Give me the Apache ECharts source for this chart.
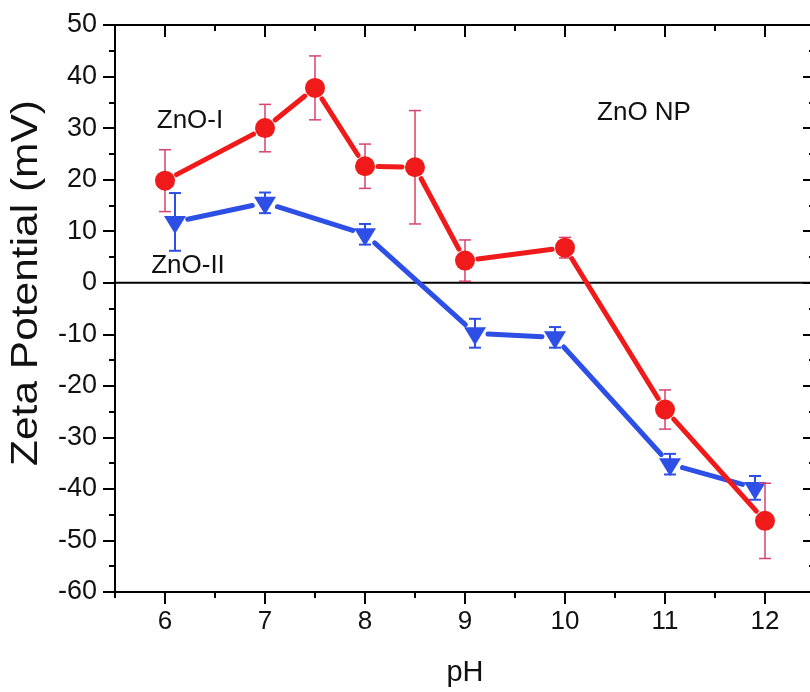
<!DOCTYPE html>
<html>
<head>
<meta charset="utf-8">
<script src="https://cdn.jsdelivr.net/npm/echarts@6/dist/echarts.min.js"></script>
<style>
html,body{margin:0;padding:0;background:#fff;}
#chart{width:810px;height:692px;}
</style>
</head>
<body>
<div id="chart"></div>
<script>
// ---- data ----
const xMajorTicks = [6, 7, 8, 9, 10, 11, 12];
const xMinorTicks = [5.5, 6.5, 7.5, 8.5, 9.5, 10.5, 11.5, 12.5];
const xMin = 5.5, xMax = 12.5, yMin = -60, yMax = 50;

const redPH   = [6, 7, 7.5, 8, 8.5, 9, 10, 11, 12];
const redZeta = [19.8, 30.0, 37.8, 22.6, 22.4, 4.3, 6.8, -24.6, -46.2];
const redErr  = [6.0, 4.6, 6.2, 4.3, 11.0, 4.0, 2.0, 3.8, 7.3];

const bluePH   = [6.1, 7, 8, 9.1, 9.9, 11.05, 11.9];
const blueZeta = [11.8, 15.5, 9.4, -9.8, -10.6, -35.2, -39.8];
const blueErr  = [5.6, 2.0, 2.0, 2.8, 2.0, 2.0, 2.3];

const FONT = "'Liberation Sans', Arial, Helvetica, sans-serif";
const RED = '#f01a1a';
const BLUE = '#2d4fe6';
const RED_ERR = '#d8426e';

function segments(xs, ys) {
  const out = [];
  for (let i = 0; i < xs.length - 1; i++) out.push([xs[i], ys[i], xs[i + 1], ys[i + 1]]);
  return out;
}
function errRows(xs, ys, es) {
  return xs.map((x, i) => [x, ys[i] - es[i], ys[i] + es[i]]);
}
function pts(xs, ys) { return xs.map((x, i) => [x, ys[i]]); }

function segRender(gapA, color) {
  return function (params, api) {
    const a = api.coord([api.value(0), api.value(1)]);
    const b = api.coord([api.value(2), api.value(3)]);
    const dx = b[0] - a[0], dy = b[1] - a[1];
    const len = Math.sqrt(dx * dx + dy * dy);
    if (len <= 2 * gapA) return null;
    const ux = dx / len, uy = dy / len;
    return {
      type: 'line',
      shape: { x1: a[0] + ux * gapA, y1: a[1] + uy * gapA, x2: b[0] - ux * gapA, y2: b[1] - uy * gapA },
      style: { stroke: color, lineWidth: 5, lineCap: 'round' }
    };
  };
}
function errRender(color, width, cap) {
  return function (params, api) {
    const lo = api.coord([api.value(0), api.value(1)]);
    const hi = api.coord([api.value(0), api.value(2)]);
    const st = { stroke: color, lineWidth: width };
    return {
      type: 'group',
      children: [
        { type: 'line', shape: { x1: lo[0], y1: lo[1], x2: hi[0], y2: hi[1] }, style: st },
        { type: 'line', shape: { x1: lo[0] - cap, y1: lo[1], x2: lo[0] + cap, y2: lo[1] }, style: st },
        { type: 'line', shape: { x1: hi[0] - cap, y1: hi[1], x2: hi[0] + cap, y2: hi[1] }, style: st }
      ]
    };
  };
}

const axisLineStyle = { show: true, onZero: false, lineStyle: { color: '#000', width: 2 } };

function xAx(pos, ticks, len, inside, labels) {
  return {
    type: 'value', position: pos, min: xMin, max: xMax, offset: 0,
    axisLine: axisLineStyle,
    axisTick: { show: true, customValues: ticks, length: len, inside: inside, lineStyle: { color: '#000', width: 2 } },
    axisLabel: labels ? { show: true, customValues: xMajorTicks, margin: 17, fontSize: 26, color: '#111', fontFamily: FONT } : { show: false },
    splitLine: { show: false }
  };
}
function yAx(pos, inside, labels) {
  return {
    type: 'value', position: pos, min: yMin, max: yMax, interval: 10, offset: 0,
    axisLine: axisLineStyle,
    axisTick: { show: true, length: 12, inside: inside, lineStyle: { color: '#000', width: 2 } },
    minorTick: { show: true, splitNumber: 2, length: 6, lineStyle: { color: '#000', width: 2 } },
    axisLabel: labels ? { show: true, margin: 18, fontSize: 27, color: '#111', fontFamily: FONT } : { show: false },
    splitLine: { show: false },
    minorSplitLine: { show: false }
  };
}

const xAxes = [
  Object.assign(xAx('bottom', xMajorTicks, 12, false, true), {
    name: 'pH', nameLocation: 'middle', nameGap: 66,
    nameTextStyle: { fontSize: 29, color: '#111', fontFamily: FONT }
  }),
  xAx('bottom', xMinorTicks, 6, false, false),
  xAx('top', xMajorTicks, 12, true, false),
  xAx('top', xMinorTicks, 6, true, false)
];
const yAxes = [
  yAx('left', false, true),
  yAx('right', true, false)
];

const chart = echarts.init(document.getElementById('chart'));
chart.setOption({
  animation: false,
  grid: { left: 115, top: 25, width: 700, height: 567, containLabel: false, outerBoundsMode: 'none' },
  xAxis: xAxes,
  yAxis: yAxes,
  graphic: [
    { type: 'text', x: 27, y: 283, rotation: Math.PI / 2, scaleX: 1.18,
      style: { text: 'Zeta Potential (mV)', fontSize: 36, fill: '#111', fontFamily: FONT, textAlign: 'center', textVerticalAlign: 'middle' } },
    { type: 'text', x: 190, y: 121, style: { text: 'ZnO-I', fontSize: 26, fill: '#111', fontFamily: FONT, textAlign: 'center', textVerticalAlign: 'middle' } },
    { type: 'text', x: 188, y: 266, style: { text: 'ZnO-II', fontSize: 26, fill: '#111', fontFamily: FONT, textAlign: 'center', textVerticalAlign: 'middle' } },
    { type: 'text', x: 644, y: 113, style: { text: 'ZnO NP', fontSize: 26, fill: '#111', fontFamily: FONT, textAlign: 'center', textVerticalAlign: 'middle' } }
  ],
  series: [
    // top frame line and inward ticks (redundant with the top axes)
    { type: 'line', data: [[xMin, yMax], [xMax, yMax]], symbol: 'none', silent: true, clip: false,
      lineStyle: { color: '#000', width: 2 }, z: 1 },
    { type: 'scatter', data: xMajorTicks.map(v => [v, yMax]), symbol: 'rect', symbolSize: [2, 12], symbolOffset: [0, 6],
      itemStyle: { color: '#000', opacity: 1 }, clip: false, silent: true, z: 1 },
    { type: 'scatter', data: xMinorTicks.map(v => [v, yMax]), symbol: 'rect', symbolSize: [2, 6], symbolOffset: [0, 3],
      itemStyle: { color: '#000', opacity: 1 }, clip: false, silent: true, z: 1 },
    // zero line
    { type: 'line', data: [[xMin, 0], [xMax, 0]], symbol: 'none', silent: true,
      lineStyle: { color: '#000', width: 2 }, z: 1 },
    // ZnO-II (blue)
    { type: 'custom', renderItem: errRender(BLUE, 2, 6), data: errRows(bluePH, blueZeta, blueErr), encode: { x: 0, y: [1, 2] }, z: 2, silent: true },
    { type: 'custom', renderItem: segRender(13, BLUE), data: segments(bluePH, blueZeta), encode: { x: [0, 2], y: [1, 3] }, z: 2, silent: true },
    { type: 'scatter', data: pts(bluePH, blueZeta), symbol: 'path://M0,0 L22,0 L11,18 Z', symbolSize: [22, 18], symbolOffset: [0, 3],
      itemStyle: { color: BLUE, opacity: 1 }, z: 3, silent: true },
    // ZnO-I (red)
    { type: 'custom', renderItem: errRender(RED_ERR, 1.5, 6), data: errRows(redPH, redZeta, redErr), encode: { x: 0, y: [1, 2] }, z: 4, silent: true },
    { type: 'custom', renderItem: segRender(13, RED), data: segments(redPH, redZeta), encode: { x: [0, 2], y: [1, 3] }, z: 4, silent: true },
    { type: 'scatter', data: pts(redPH, redZeta), symbol: 'circle', symbolSize: 20,
      itemStyle: { color: RED, opacity: 1 }, z: 5, silent: true }
  ]
});
</script>
</body>
</html>
